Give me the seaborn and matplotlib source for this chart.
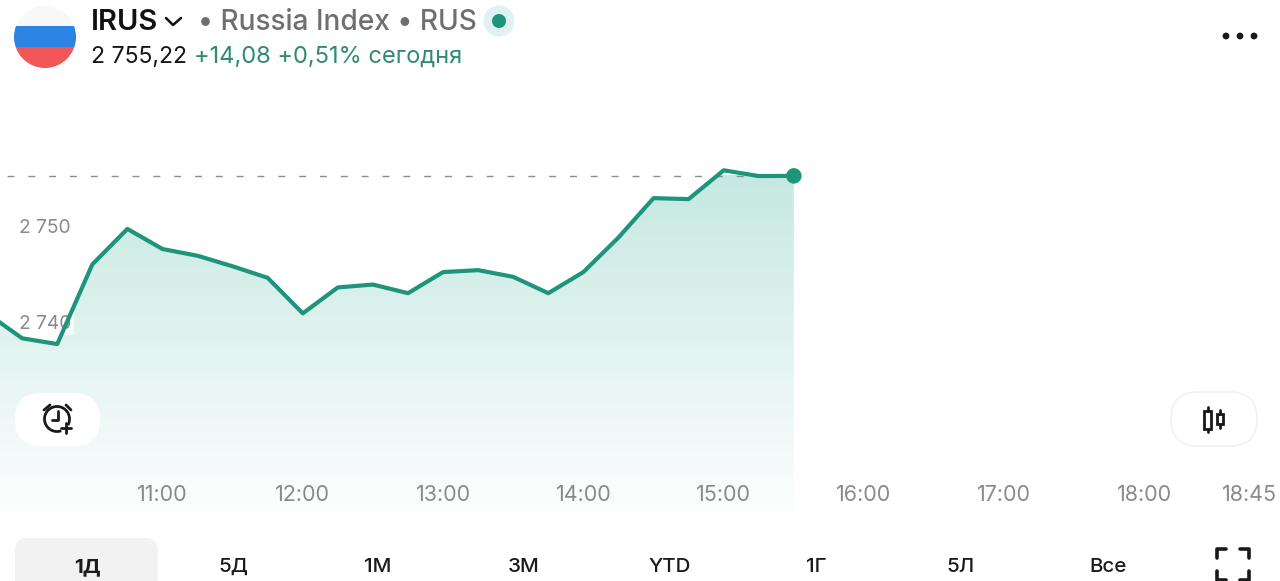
import numpy as np
import pandas as pd
import seaborn as sns
import matplotlib
matplotlib.use("Agg")
import matplotlib.pyplot as plt
from matplotlib.patches import FancyBboxPatch, Circle, Rectangle, Arc

times = ["09:45", "10:00", "10:15", "10:30", "10:45", "11:00", "11:15", "11:30", "11:45", "12:00",
         "12:15", "12:30", "12:45", "13:00", "13:15", "13:30", "13:45", "14:00", "14:15", "14:30",
         "14:45", "15:00", "15:15", "15:30"]
values = [2740.9, 2738.3, 2737.7, 2746.0, 2749.7, 2747.6, 2746.9, 2745.8, 2744.6, 2740.9,
          2743.6, 2743.9, 2743.0, 2745.2, 2745.4, 2744.7, 2743.0, 2745.2, 2748.8, 2752.9,
          2752.8, 2755.8, 2755.2, 2755.22]
last_price = 2755.22
y_ticks = [2740, 2750]
y_tick_labels = ["2 740", "2 750"]
x_ticks = [11, 12, 13, 14, 15, 16, 17, 18, 18.75]
x_tick_labels = ["11:00", "12:00", "13:00", "14:00", "15:00", "16:00", "17:00", "18:00", "18:45"]
tabs = ["1Д", "5Д", "1М", "3М", "YTD", "1Г", "5Л", "Все"]

GREEN = "#1d957b"
TXT_GREEN = "#2f8a70"
GRAY = "#6f6f6f"
TICK = "#8a8a8a"
INK = "#1a1a1a"

sns.set_theme(style="white")
plt.rcParams["font.family"] = ["Inter", "Noto Sans", "DejaVu Sans"]

df = pd.DataFrame({"time": times, "value": values})
df["hour"] = [int(t[:2]) + int(t[3:]) / 60 for t in df["time"]]

fig = plt.figure(figsize=(12.8, 5.81), dpi=100, facecolor="white")
ax = fig.add_axes([0, 0, 1, 1])
xmin, xmax = 9.842, 18.965
ymin, ymax = 2713.02, 2773.54
ax.set_xlim(xmin, xmax)
ax.set_ylim(ymin, ymax)
ax.axis("off")

# gradient area under the line
bottom = ymin + (581 - 525) / 9.6
poly = ax.fill_between(df["hour"], df["value"], bottom, color="none", lw=0)
top_rgb = np.array(matplotlib.colors.to_rgb("#c6e8e2"))
n = 256
alpha = np.linspace(1, 0, n)
grad = np.ones((n, 2, 3)) * (alpha[:, None, None] * top_rgb + (1 - alpha[:, None, None]) * 1.0)
im = ax.imshow(grad, extent=[xmin, df["hour"].iloc[-1], bottom, last_price], origin="upper",
               aspect="auto", zorder=1)
im.set_clip_path(poly.get_paths()[0], transform=ax.transData)
ax.set_xlim(xmin, xmax)
ax.set_ylim(ymin, ymax)

# dashed last-price line
ax.plot([xmin + 0.05, df["hour"].iloc[-1]], [last_price, last_price], color="#8d8d8d", lw=1.0,
        dashes=(5, 10), zorder=2)

# y labels (drawn below the line, with halo box)
for v, lab in zip(y_ticks, y_tick_labels):
    ax.text(10.0 - 0.02, v - 0.2, lab, ha="left", va="center", fontsize=13.8, color=TICK, zorder=3,
            bbox=dict(fc="white", ec="none", alpha=0.75, pad=1.5))

sns.lineplot(data=df, x="hour", y="value", ax=ax, color=GREEN, lw=3, zorder=4, legend=False,
             errorbar=None)
sns.scatterplot(data=df.iloc[[-1]], x="hour", y="value", ax=ax, color=GREEN, s=125, zorder=5,
                edgecolor="none", legend=False)
ax.set_xlabel("")
ax.set_ylabel("")

# x labels
for h, lab in zip(x_ticks, x_tick_labels):
    ax.text(h, ymin + (581 - 495) / 9.6, lab, ha="center", va="center", fontsize=15.5, color=TICK, zorder=6)

# UI chrome in pixel coordinates
ui = fig.add_axes([0, 0, 1, 1], facecolor="none")
ui.set_xlim(0, 1280)
ui.set_ylim(581, 0)
ui.axis("off")

# flag
clip = Circle((45, 37), 31, transform=ui.transData)
for y0, h, c in [(6, 20, "#f7f8f8"), (26, 21, "#2b84e2"), (47, 21, "#f25656")]:
    r = Rectangle((14, y0), 62, h, fc=c, ec="none")
    ui.add_patch(r)
    r.set_clip_path(clip)

ui.text(91, 23, "IRUS", fontsize=21, fontweight="semibold", color="#111111", va="center", ha="left")
ui.plot([166, 173, 181], [18, 25, 18], color="#111111", lw=1.8)
ui.text(198, 23, "• Russia Index • RUS", fontsize=20.2, fontweight="medium", color=GRAY, va="center", ha="left")
ui.add_patch(Circle((499, 21), 15.5, fc="#e0f1f3", ec="none"))
ui.add_patch(Circle((499, 21), 7, fc=GREEN, ec="none"))
ui.text(91, 57, "2 755,22", fontsize=16.6, color="#141414", va="center", ha="left")
ui.text(194, 57, "+14,08 +0,51% сегодня", fontsize=17, color=TXT_GREEN, va="center", ha="left")

for cx in (1226, 1240, 1254):
    ui.add_patch(Circle((cx, 36), 3.4, fc=INK, ec="none"))

# alarm button
ui.add_patch(FancyBboxPatch((15, 393), 85, 53, boxstyle="round,pad=0,rounding_size=26", fc="white", ec="none"))
ui.add_patch(Arc((57, 419), 25, 25, theta1=-290, theta2=30, color=INK, lw=2))
ui.plot([58, 58, 52], [411, 420, 420], color=INK, lw=2)
ui.plot([44, 50], [410, 405], color=INK, lw=2)
ui.plot([66, 71], [405, 410], color=INK, lw=2)
ui.plot([61, 71], [428, 428], color=INK, lw=2)
ui.plot([66, 66], [423, 433], color=INK, lw=2)

# candle button
ui.add_patch(FancyBboxPatch((1171, 392), 86, 54, boxstyle="round,pad=0,rounding_size=27", fc="white", ec="#efefef", lw=1))
ui.add_patch(Rectangle((1204, 411), 7, 18, fc="white", ec=INK, lw=2))
ui.plot([1207.5, 1207.5], [407, 411], color=INK, lw=2)
ui.plot([1207.5, 1207.5], [429, 432], color=INK, lw=2)
ui.add_patch(Rectangle((1217, 414), 6, 10, fc="white", ec=INK, lw=2))
ui.plot([1220, 1220], [410, 414], color=INK, lw=2)
ui.plot([1220, 1220], [424, 428], color=INK, lw=2)

# tabs
ui.add_patch(FancyBboxPatch((15, 538), 143, 70, boxstyle="round,pad=0,rounding_size=12", fc="#f2f2f2", ec="none"))
tab_x = [87, 233, 378, 524, 670, 816, 961, 1108]
for i, (xp, lab) in enumerate(zip(tab_x, tabs)):
    ui.text(xp, 567, lab, fontsize=14.8, ha="center", va="center", color=INK,
            fontweight="bold" if i == 0 else "medium")

# fullscreen icon
for xs, ys in [([1217, 1217, 1226], [558, 549, 549]), ([1240, 1249, 1249], [549, 549, 558]),
               ([1217, 1217, 1226], [571, 580, 580]), ([1240, 1249, 1249], [580, 580, 571])]:
    ui.plot(xs, ys, color=INK, lw=2.6, solid_joinstyle="round")

fig.savefig("out.png", dpi=100)
